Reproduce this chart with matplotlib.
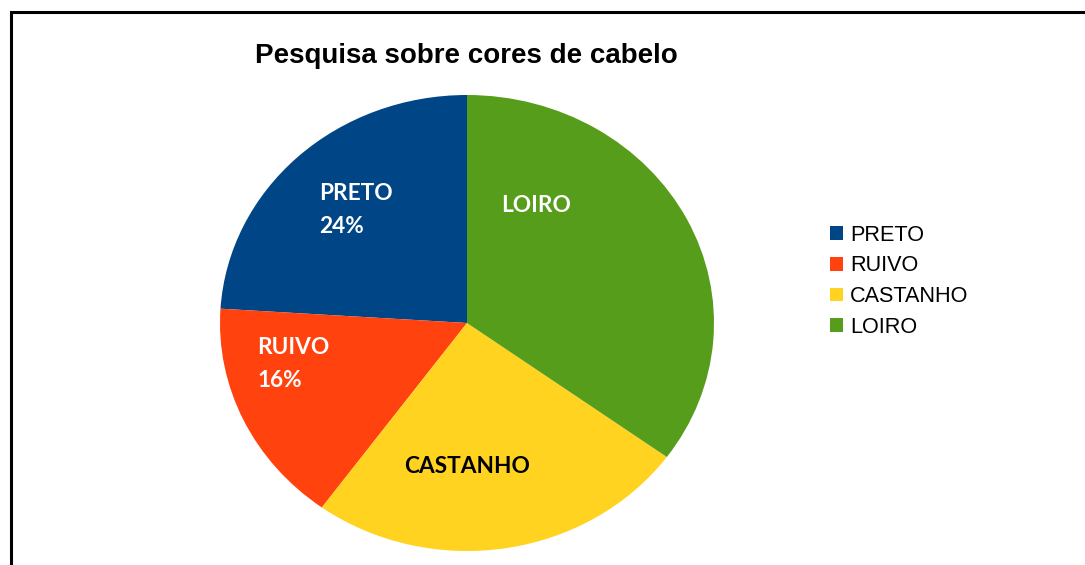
import matplotlib.pyplot as plt
from matplotlib.patches import Rectangle

# data
categories = ["PRETO", "RUIVO", "CASTANHO", "LOIRO"]
shares = [24, 16, 25, 35]
colors = ["#004586", "#ff420e", "#ffd320", "#579d1c"]
show_pct = [True, True, False, False]

W, H = 1085, 565
fig = plt.figure(figsize=(W / 100, H / 100), dpi=100)

# pie area in pixels (the original is slightly stretched horizontally)
cx, cy, rx, ry = 467, 323, 247, 228
ax = fig.add_axes([(cx - rx) / W, (H - cy - ry) / H, 2 * rx / W, 2 * ry / H])
wedges, _ = ax.pie(shares, colors=colors, startangle=90, counterclock=True,
                   radius=1, wedgeprops=dict(linewidth=0))
ax.set_aspect("auto")
ax.set_xlim(-1, 1)
ax.set_ylim(-1, 1)
ax.axis("off")

# label anchors (axes units), as placed in the original
label_pos = [(-0.6, 0.495), (-0.85, -0.18), (0.0, -0.63), (0.28, 0.515)]
label_col = ["white", "white", "black", "white"]
for name, val, pct, (lx, ly), c in zip(categories, shares, show_pct, label_pos, label_col):
    txt = f"{name}\n{val}%" if pct else name
    ha = "left" if pct else "center"
    ax.text(lx, ly, txt, ha=ha, va="center", color=c, fontsize=16.3,
            fontweight="bold", family="Lato", linespacing=1.72)

fig.text(466 / W, 1 - 56 / H, "Pesquisa sobre cores de cabelo", ha="center",
         va="center", fontsize=20, fontweight="bold", family="Liberation Sans")

leg = fig.legend(wedges, categories, loc="upper left",
                 bbox_to_anchor=(821 / W, 1 - 216 / H), frameon=False,
                 prop=dict(family="Liberation Sans", size=15.6),
                 handlelength=0.6, handleheight=0.6, handletextpad=0.35,
                 labelspacing=0.45, borderaxespad=0)

# outer frame, only left and top visible
fig.patches.append(Rectangle((10.5 / W, -0.5), 2, 1.5 - 11.5 / H,
                             transform=fig.transFigure, fill=False,
                             edgecolor="black", linewidth=2.2))

fig.savefig("out.png", dpi=100)
